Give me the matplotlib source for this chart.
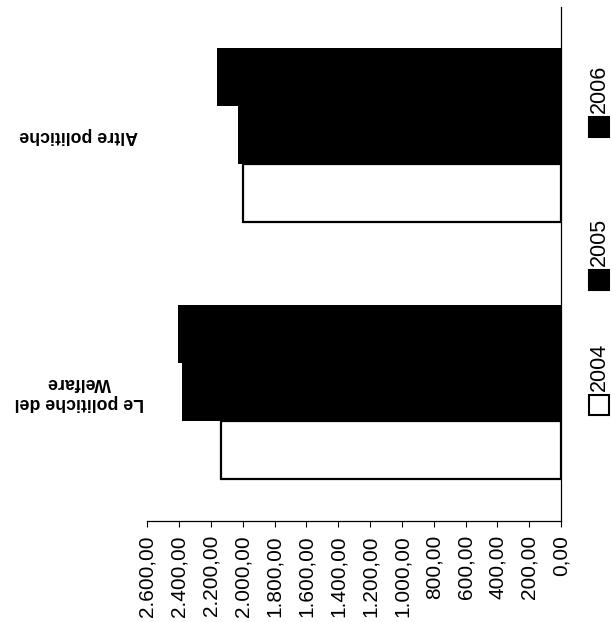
import numpy as np
import matplotlib
matplotlib.use("Agg")
import matplotlib.pyplot as plt
from matplotlib.patches import Rectangle
from matplotlib.ticker import FuncFormatter
from matplotlib.transforms import blended_transform_factory

categories = ["Le politiche del\nWelfare", "Altre politiche"]
years = ["2004", "2005", "2006"]
v2004 = [2135, 2000]
v2005 = [2385, 2030]
v2006 = [2410, 2160]
fills = ["white", "black", "black"]

plt.rcParams['font.family'] = ['Liberation Sans', 'DejaVu Sans']

W, H = 612, 622
fig = plt.figure(figsize=(W / 100, H / 100), dpi=100)
ax = fig.add_axes([147.3 / W, 1 - 520.7 / H, (561 - 147.3) / W, (520.7 - 7) / H])

ypos = np.arange(len(categories))
h = 0.226
for i, (vals, fc) in enumerate(zip([v2004, v2005, v2006], fills)):
    lw = 1.6 if fc == "white" else 0
    ax.barh(ypos + (i - 1) * h, vals, height=h, color=fc,
            edgecolor="black", linewidth=lw)

ax.set_xlim(2600, 0)
ax.set_ylim(-0.5, 1.5)
ax.set_xticks(np.arange(0, 2601, 200))


def it_fmt(v, pos):
    s = f"{v:,.2f}"
    return s.replace(",", "X").replace(".", ",").replace("X", ".")


ax.xaxis.set_major_formatter(FuncFormatter(it_fmt))
ax.tick_params(axis="x", direction="out", length=4.3, width=0.8,
               labelrotation=90, labelsize=15, pad=6)
ax.set_yticks([])
for s in ["top", "left"]:
    ax.spines[s].set_visible(False)
for s in ["bottom", "right"]:
    ax.spines[s].set_linewidth(0.9)

# category labels, upside down on the far side
trans = blended_transform_factory(ax.transAxes, ax.transData)
for y, cat in zip(ypos, categories):
    ax.text(-0.1655, y, cat, transform=trans, rotation=180, ha="center",
            va="center", fontsize=12.8, fontweight="bold",
            multialignment="center")

# legend drawn by hand, rotated
sq_y = [405, 280, 127]
for yr, fc, c in zip(years, fills, sq_y):
    fig.patches.append(Rectangle((589 / W, 1 - (c + 10) / H), 20 / W, 20 / H,
                                 transform=fig.transFigure, facecolor=fc,
                                 edgecolor="black", linewidth=1.5))
    fig.text(599 / W, 1 - (c - 14) / H, yr, rotation=90, ha="center",
             va="bottom", fontsize=15.5)

fig.savefig("out.png", dpi=100)
